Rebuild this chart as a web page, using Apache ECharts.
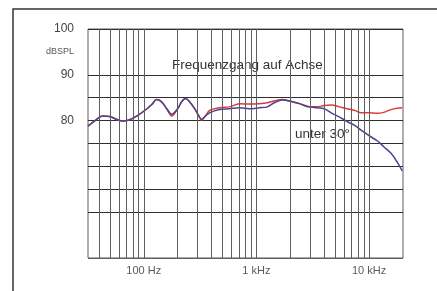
<!DOCTYPE html>
<html>
<head>
<meta charset="utf-8">
<script src="https://cdn.jsdelivr.net/npm/echarts@6/dist/echarts.min.js"></script>
<style>
  html, body { margin: 0; padding: 0; background: #fff; }
  #Echart { width: 437px; height: 291px; }
</style>
</head>
<body>
<div id="Echart"></div>
<script>
// frequency points (Hz)
const freq = [32, 37, 43, 50, 57, 65, 75, 88, 102, 118, 130, 144, 160, 177, 200, 217, 235, 255, 283, 307,
  326, 354, 384, 471, 577, 707, 867, 1060, 1250, 1440, 1700, 1960, 2400, 2950, 3470, 4000, 4610, 5430,
  6380, 7510, 8500, 10000, 11800, 13500, 15600, 17700, 19700];
// on axis (red)
const onAxis = [78.8, 80.0, 81.0, 80.9, 80.3, 79.9, 80.2, 81.1, 82.2, 83.5, 84.6, 84.1, 82.6, 81.0, 82.6, 84.1,
  84.8, 84.1, 82.6, 81.1, 80.1, 81.1, 82.2, 82.8, 83.0, 83.7, 83.6, 83.7, 83.9, 84.3, 84.6, 84.3, 83.7, 83.0,
  83.0, 83.3, 83.4, 83.0, 82.6, 82.2, 81.7, 81.7, 81.6, 81.8, 82.4, 82.7, 82.8];
// under 30 degrees (blue)
const at30 = [78.8, 80.0, 81.0, 80.9, 80.3, 79.9, 80.2, 81.1, 82.2, 83.5, 84.6, 84.1, 82.6, 81.4, 82.6, 84.1,
  84.8, 84.1, 82.6, 81.1, 80.3, 81.0, 81.7, 82.4, 82.6, 82.8, 82.6, 82.8, 83.0, 83.9, 84.5, 84.3, 83.7, 83.0,
  82.8, 82.6, 81.7, 80.8, 79.8, 78.9, 77.9, 76.7, 75.6, 74.3, 72.9, 71.0, 69.0];
// vertical grid lines
const xGrid = [40, 50, 60, 70, 80, 90, 100, 200, 300, 400, 500, 600, 700, 800, 900, 1000,
  2000, 3000, 4000, 5000, 6000, 7000, 8000, 9000, 10000];
const xLabels = {100: '100 Hz', 1000: '1 kHz', 10000: '10 kHz'};
const yLabels = {100: '100', 95: '{s|dBSPL}', 90: '90', 80: '80'};

let Chart = echarts.init(document.getElementById('Echart'));

const dark = '#2e2e2e', light = '#5e5e5e';
const pairs = (ys) => freq.map((f, i) => [f, ys[i]]);

let option = {
  animation: false,
  backgroundColor: '#fff',
  grid: {left: 88, top: 29, right: 34, bottom: 33, show: true, borderColor: light, borderWidth: 1},
  xAxis: {
    type: 'log', logBase: 10, min: 32, max: 20000,
    axisLine: {show: false}, axisTick: {show: false}, splitLine: {show: false},
    axisLabel: {
      color: '#5a5a5a', fontSize: 11, margin: 7, fontFamily: 'Liberation Sans',
      formatter: (v) => {
        for (const k in xLabels) if (Math.abs(v - k) / k < 1e-6) return xLabels[k];
        return '';
      }
    }
  },
  yAxis: {
    type: 'value', min: 50, max: 100, interval: 5,
    axisLine: {show: false}, axisTick: {show: false},
    splitLine: {
      show: true,
      lineStyle: {width: 1, color: [light, 'rgba(0,0,0,0)', dark, dark, dark, dark, dark, dark, dark, 'rgba(0,0,0,0)', dark]}
    },
    axisLabel: {
      color: '#444', fontSize: 12, margin: 14, fontFamily: 'Liberation Sans',
      rich: {s: {fontSize: 9, color: '#555', fontFamily: 'Liberation Sans'}},
      formatter: (v) => yLabels[v] || ''
    }
  },
  series: [
    {
      type: 'line', data: pairs(onAxis), showSymbol: false, smooth: 0.35, z: 3,
      lineStyle: {color: '#dc3b3b', width: 1.5},
      markLine: {
        silent: true, symbol: 'none', label: {show: false},
        lineStyle: {color: light, width: 1, type: 'solid'},
        data: xGrid.map((f) => ({xAxis: f}))
      }
    },
    {
      type: 'line', data: pairs(at30), showSymbol: false, smooth: 0.35, z: 4,
      lineStyle: {color: '#4b4590', width: 1.5}
    }
  ],
  graphic: [
    {type: 'rect', shape: {x: 13, y: 9, width: 600, height: 400}, silent: true,
      style: {fill: 'none', stroke: '#3a3232', lineWidth: 1.5}},
    {type: 'text', left: 172, top: 58, silent: true,
      style: {text: 'Frequenzgang auf Achse', fontSize: 13.5, fill: '#333', fontFamily: 'Liberation Sans'}},
    {type: 'text', left: 295, top: 127, silent: true,
      style: {text: 'unter 30°', fontSize: 13.5, fill: '#333', fontFamily: 'Liberation Sans'}}
  ]
};
Chart.setOption(option);
</script>
</body>
</html>
